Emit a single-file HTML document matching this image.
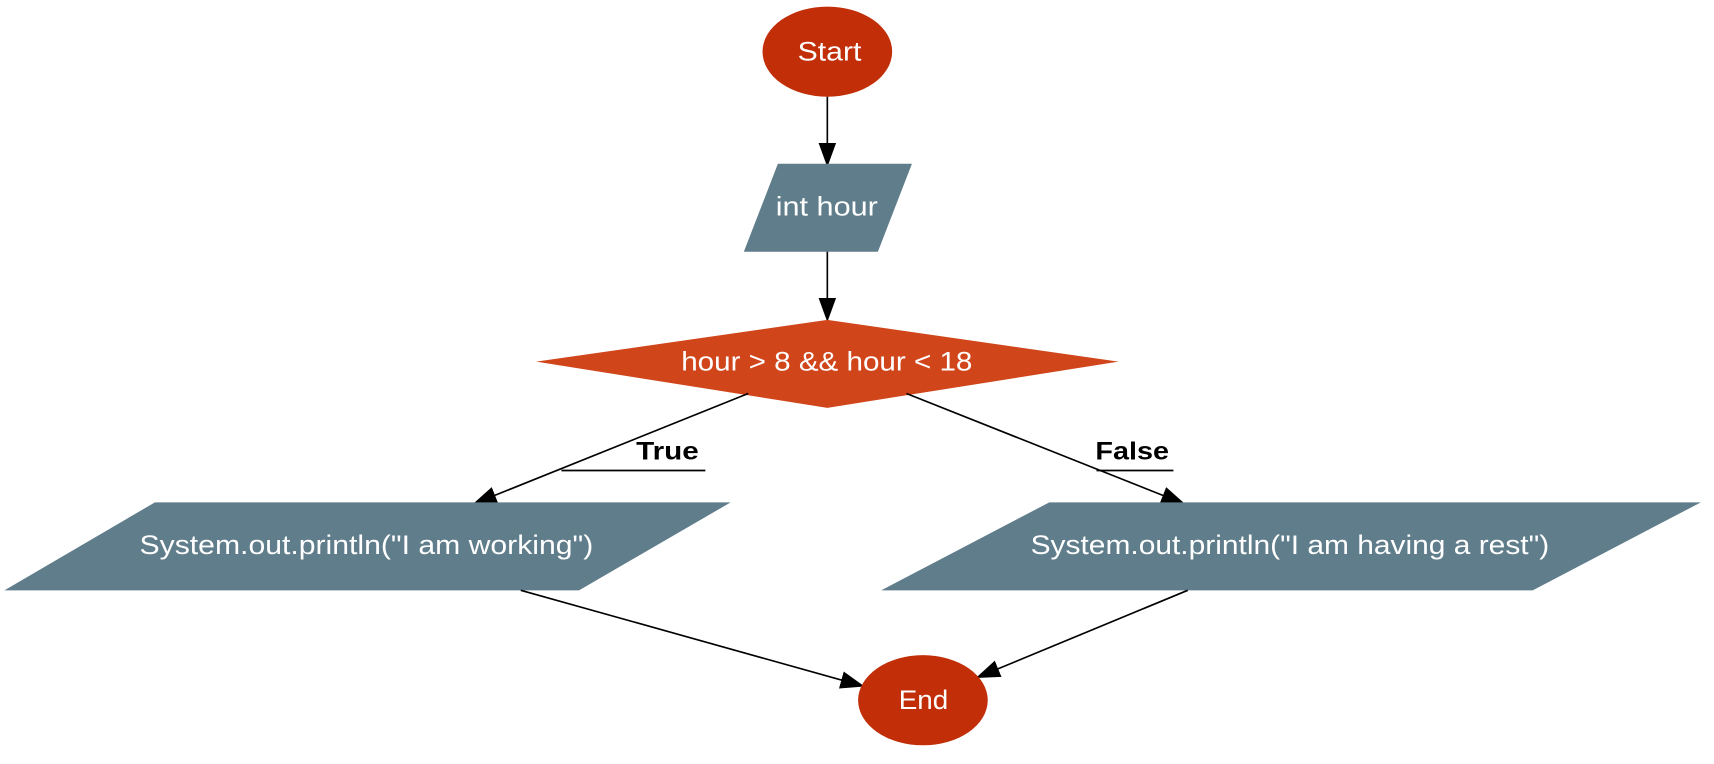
<!DOCTYPE html>
<html><head><style>html,body{margin:0;padding:0;background:#fff}svg{display:block}</style></head>
<body>
<svg width="1714" height="764" viewBox="0 0 1560 695" preserveAspectRatio="none" xmlns="http://www.w3.org/2000/svg" font-family="Liberation Sans, sans-serif">
<defs><marker id="b" markerWidth="22" markerHeight="22" refX="20" refY="11" orient="auto" markerUnits="userSpaceOnUse" viewBox="0 0 22 22"><path d="M0,3 L22,11 L0,19z" fill="#000"/></marker></defs>
<ellipse cx="753" cy="47" rx="59" ry="41" fill="#c12e08"/>
<text x="726" y="55" font-size="24" fill="#fff" textLength="58" lengthAdjust="spacingAndGlyphs">Start</text>
<line x1="753" y1="88" x2="753" y2="150" stroke="#000" stroke-width="1.5" marker-end="url(#b)"/>
<polygon points="708,149 830,149 799,229 677,229" fill="#607d8b"/>
<text x="706" y="196" font-size="24" fill="#fff" textLength="93" lengthAdjust="spacingAndGlyphs">int hour</text>
<line x1="753" y1="229" x2="753" y2="291" stroke="#000" stroke-width="1.5" marker-end="url(#b)"/>
<polygon points="753,291 1018,329 753,371 488,329" fill="#d1451b"/>
<text x="620" y="337" font-size="24" fill="#fff" textLength="265" lengthAdjust="spacingAndGlyphs">hour &gt; 8 &amp;&amp; hour &lt; 18</text>
<line x1="681" y1="358" x2="432" y2="458" stroke="#000" stroke-width="1.5" marker-end="url(#b)"/>
<text x="579" y="418" font-size="23" font-weight="bold" textLength="57" lengthAdjust="spacingAndGlyphs">True</text>
<line x1="511" y1="428" x2="642" y2="428" stroke="#000" stroke-width="1.5"/>
<line x1="825" y1="358" x2="1077" y2="458" stroke="#000" stroke-width="1.5" marker-end="url(#b)"/>
<text x="997" y="418" font-size="23" font-weight="bold" textLength="67" lengthAdjust="spacingAndGlyphs">False</text>
<line x1="998" y1="428" x2="1068" y2="428" stroke="#000" stroke-width="1.5"/>
<polygon points="141,457 665,457 527,537 4,537" fill="#607d8b"/>
<text x="127" y="504" font-size="24" fill="#fff" textLength="413" lengthAdjust="spacingAndGlyphs">System.out.println("I am working")</text>
<polygon points="955,457 1548,457 1395,537 802,537" fill="#607d8b"/>
<text x="938" y="504" font-size="24" fill="#fff" textLength="472" lengthAdjust="spacingAndGlyphs">System.out.println("I am having a rest")</text>
<line x1="474" y1="537" x2="785" y2="624" stroke="#000" stroke-width="1.5" marker-end="url(#b)"/>
<line x1="1081" y1="537" x2="890" y2="616" stroke="#000" stroke-width="1.5" marker-end="url(#b)"/>
<ellipse cx="840" cy="637" rx="59" ry="41" fill="#c12e08"/>
<text x="818" y="645" font-size="24" fill="#fff" textLength="45" lengthAdjust="spacingAndGlyphs">End</text>
</svg>
</body></html>
